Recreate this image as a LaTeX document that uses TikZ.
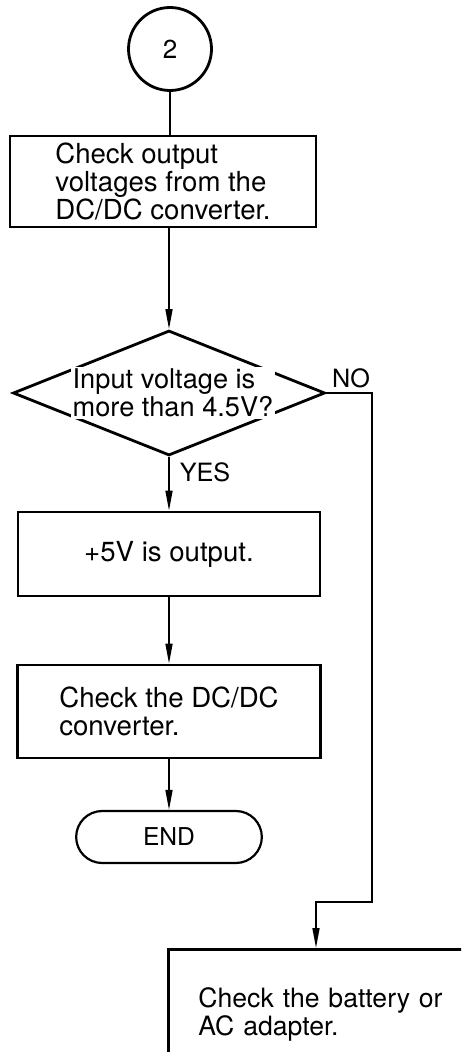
\documentclass[tikz,border=0pt]{standalone}
\usepackage{fontspec}
\setmainfont{TeX Gyre Heros}
\usetikzlibrary{shapes.geometric,shapes.misc,arrows.meta}
\begin{document}
\begin{tikzpicture}[x=0.5pt, y=-0.5pt,
        proc/.style={rectangle, draw=black, line width=1.4pt, align=left, font=\fontsize{13.8}{14}\selectfont},
        decide/.style={diamond, draw=black, line width=1.4pt, inner sep=0pt, minimum width=156pt, minimum height=62.5pt},
        term/.style={rounded rectangle, draw=black, line width=1.1pt, minimum width=99.5pt, minimum height=26pt, font=\fontsize{12.3}{14}\selectfont},
        conn/.style={circle, draw=black, line width=1.4pt, minimum size=41.5pt, inner sep=0pt, font=\fontsize{13}{16}\selectfont},
        ans/.style={font=\fontsize{12.6}{14}\selectfont},
        link/.style={draw=black, line width=0.8pt},
        arr/.style={link, -{Triangle[length=10pt, width=3.5pt]}}
    ]
        \useasboundingbox (0,0) rectangle (461,1052);
        \clip (0,0) rectangle (461,1052);

        % Start
        \node[conn] (start) at (170,49) {2};

        % Steps
        \node[proc, minimum width=153pt, minimum height=45.5pt] (outv) at (163,181.5) {Check output\\voltages from the\\DC/DC converter.};
        \node[decide] (dia) at (169,393) {};
        \node[fill=white, inner sep=1pt, align=left, font=\fontsize{13.6}{14}\selectfont] (q) at (173,393) {Input voltage is\\more than 4.5V?};
        \node[proc, minimum width=151pt, minimum height=42pt, align=center] (five) at (169,554) {+5V is output.};
        \node[proc, minimum width=151.5pt, minimum height=46.5pt] (conv) at (169,711.5) {Check the DC/DC\\converter.};
        \node[term] (stop) at (169,837) {END};

        % Battery
        \node[proc, anchor=north west, minimum width=160pt, minimum height=65pt, inner xsep=15pt, text width=130pt, font=\fontsize{13.3}{12.8}\selectfont] (bat) at (167,948) {Check the battery or\\AC adapter.};

        % Answers
        \node[ans] (yes) at (205,472) {YES};
        \node[ans] (no) at (351,378) {NO};
        \coordinate (nobend) at (372,902);

        % Connections
        \draw[link] (start.south) -- (start.south |- outv.north);
        \draw[arr] (dia.north |- outv.south) -- (dia.north);
        \draw[arr] (dia.south) -- (dia.south |- five.north);
        \draw[arr] (five.south) -- (conv.north);
        \draw[arr] (conv.south) -- (stop.north);
        \draw[arr] (dia.east) -| (nobend) -| ([xshift=74.5pt]bat.north west);
    \end{tikzpicture}
\end{document}
